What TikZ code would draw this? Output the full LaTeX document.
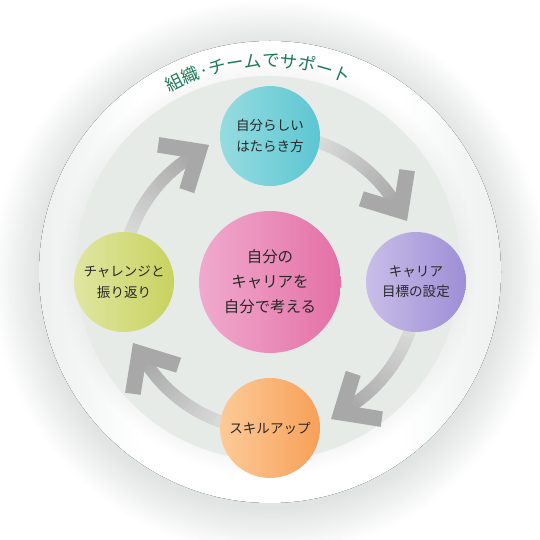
\documentclass[tikz,border=0pt]{standalone}
\usepackage{fontspec}
\setmainfont{Noto Sans CJK JP}
\usetikzlibrary{positioning,decorations.text}
\definecolor{ringgray}{RGB}{230,235,232}
\definecolor{ringside}{RGB}{236,240,238}
\definecolor{haze}{RGB}{90,110,100}
\definecolor{arrowgray}{RGB}{168,168,168}
\definecolor{bodylight}{RGB}{228,230,228}
\definecolor{titlegreen}{RGB}{30,122,88}
\definecolor{txt}{RGB}{40,40,40}
\definecolor{workL}{RGB}{150,220,224}
\definecolor{workR}{RGB}{92,198,210}
\definecolor{goalL}{RGB}{200,190,232}
\definecolor{goalR}{RGB}{158,142,214}
\definecolor{skillL}{RGB}{252,202,152}
\definecolor{skillR}{RGB}{248,160,88}
\definecolor{reviewL}{RGB}{224,230,162}
\definecolor{reviewR}{RGB}{200,210,95}
\definecolor{coreL}{RGB}{240,170,206}
\definecolor{coreR}{RGB}{228,112,165}
\pgfdeclarehorizontalshading{ringshade}{100bp}{color(0bp)=(ringside); color(25bp)=(ringside);
  color(36bp)=(white); color(64bp)=(white); color(75bp)=(ringside); color(100bp)=(ringside)}
\begin{document}
\begin{tikzpicture}[
    x=0.02cm, y=0.02cm,
    node distance=2.92cm,
    bubble/.style={circle,minimum size=2cm,inner sep=0pt,align=center,text=txt,font=\fontsize{7.7}{11.6}\selectfont},
    core/.style={bubble,minimum size=2.84cm,left color=coreL,right color=coreR,font=\fontsize{8.8}{14.2}\selectfont},
    work/.style={bubble,left color=workL,right color=workR},
    goal/.style={bubble,left color=goalL,right color=goalR},
    skill/.style={bubble,left color=skillL,right color=skillR},
    review/.style={bubble,left color=reviewL,right color=reviewR},
    chevron/.style={fill=arrowgray}]
    \useasboundingbox (0,0) rectangle (540,540);
    % halo and discs
    \foreach \r in {232,234,...,278} \fill[haze,opacity=0.007] (270,263) circle (\r);
    \fill[shading=ringshade] (270,268) circle (231);
    \foreach \r in {193,195,...,209} \fill[haze,opacity=0.005] (268,272) circle (\r);
    \fill[ringgray] (268,272) circle (192);
    \coordinate (hub) at (270,258);
    % title along the ring
    \path[decorate,decoration={text along path,text align=center,text color=titlegreen,
        text={|\fontsize{10}{10}\selectfont|組織·チームでサポート}}]
        ([shift={(268,272)}]150:201) arc[start angle=150,end angle=36,radius=201];
    % arrows
    \foreach \k in {0,1,2,3} {
      \begin{scope}[shift={(hub)},rotate=-90*\k]
        \foreach \i in {0,...,23} {
          \pgfmathtruncatemacro\p{\i*100/23}
          \draw[line width=0.25cm,arrowgray!\p!bodylight] (80-2*\i:148) arc[start angle=80-2*\i,end angle=77.8-2*\i,radius=148];
        }
        \fill[chevron,shift={(24:150)},rotate=-58] (0,0) -- (-38,33) -- (-48,21) -- (-24,0) -- (-48,-21) -- (-38,-33) -- cycle;
      \end{scope}
    }
    % nodes
    \node[core] (career) at (hub) {自分の\\キャリアを\\自分で考える};
    \node[work, above of = career] (work) {自分らしい\\はたらき方};
    \node[goal, right of = career] (goal) {キャリア\\目標の設定};
    \node[skill, below of = career] (skill) {スキルアップ};
    \node[review, left of = career] (review) {チャレンジと\\振り返り};
\end{tikzpicture}
\end{document}
